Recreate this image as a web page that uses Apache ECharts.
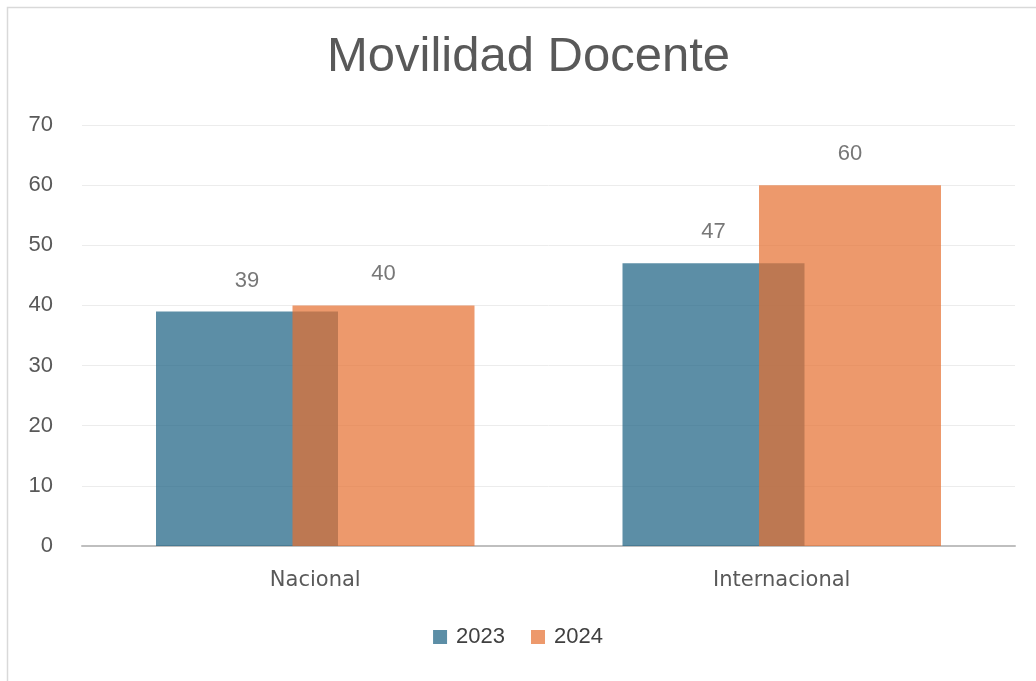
<!DOCTYPE html>
<html>
<head>
<meta charset="utf-8">
<script src="https://cdn.jsdelivr.net/npm/echarts@6/dist/echarts.min.js"></script>
<style>
  html, body { margin: 0; padding: 0; background: #fff; }
  #chart { width: 1036px; height: 681px; }
</style>
</head>
<body>
<div id="chart"></div>
<script>
const categories = ['Nacional', 'Internacional']
const values2023 = [39, 47]
const values2024 = [40, 60]
const yTicks = { min: 0, max: 70, interval: 10 }

const narrow = '"Liberation Sans Narrow", "Arial Narrow", "Liberation Sans", sans-serif'

const chart = echarts.init(document.getElementById('chart'))

const valueLabel = {
  show: true,
  position: 'top',
  distance: 20,
  color: '#404040',
  fontSize: 22,
  fontFamily: narrow
}

chart.setOption({
  animation: false,
  backgroundColor: '#fff',
  graphic: [{
    type: 'rect',
    shape: { x: 7.5, y: 7.5, width: 1200, height: 900 },
    style: { fill: 'none', stroke: '#d9d9d9', lineWidth: 1.5 },
    silent: true,
    z: -10
  }],
  title: {
    text: 'Movilidad Docente',
    left: 322,
    top: 28,
    textStyle: {
      color: '#595959',
      fontSize: 49,
      fontWeight: 'normal',
      fontFamily: '"Liberation Sans", Arial, sans-serif'
    }
  },
  grid: {
    left: 82,
    right: 21,
    top: 125,
    bottom: 135
  },
  legend: {
    bottom: 28,
    left: 'center',
    itemWidth: 14,
    itemHeight: 14,
    itemGap: 26,
    icon: 'rect',
    textStyle: { color: '#404040', fontSize: 22, fontFamily: narrow, padding: [0, 0, 0, 4] },
    data: ['2023', '2024']
  },
  xAxis: {
    type: 'category',
    data: categories,
    axisTick: { show: false },
    axisLine: { lineStyle: { color: '#bfbfbf', width: 2 } },
    axisLabel: {
      color: '#595959',
      fontSize: 21,
      margin: 24,
      fontFamily: '"DejaVu Sans", sans-serif'
    }
  },
  yAxis: {
    type: 'value',
    min: yTicks.min,
    max: yTicks.max,
    interval: yTicks.interval,
    axisLine: { show: false },
    axisTick: { show: false },
    splitLine: { lineStyle: { color: '#ececec', width: 1 } },
    axisLabel: {
      color: '#595959',
      fontSize: 22,
      margin: 29,
      fontFamily: narrow
    }
  },
  series: [
    {
      name: '2023',
      type: 'bar',
      data: values2023,
      barWidth: 182,
      barGap: '-25%',
      itemStyle: { color: '#1a6082', opacity: 0.71 },
      label: valueLabel
    },
    {
      name: '2024',
      type: 'bar',
      data: values2024,
      barWidth: 182,
      barGap: '-25%',
      itemStyle: { color: '#e66f30', opacity: 0.71 },
      label: valueLabel
    }
  ]
})
</script>
</body>
</html>
